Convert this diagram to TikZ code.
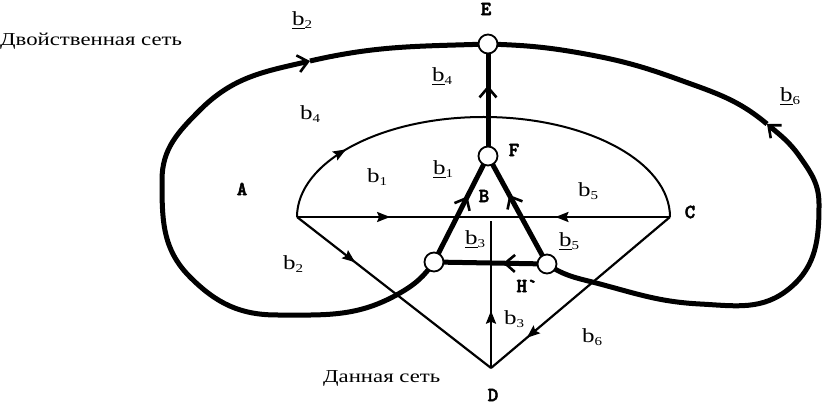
\documentclass[tikz,border=0pt]{standalone}
\usepackage{fontspec}
\usetikzlibrary{arrows.meta,decorations.markings}
\newfontfamily\serw[FakeStretch=1.25]{Liberation Serif}
\newfontfamily\monob[FakeBold=2.5]{lmmonolt10-bold.otf}
\newcommand\bsub[1]{{\fontsize{20}{20}\selectfont b\raisebox{-2.5pt}{\fontsize{12}{12}\selectfont #1}}}
\newcommand\ubsub[1]{{\fontsize{20}{20}\selectfont\setbox0\hbox{b}\rlap{\rule[-3.5pt]{\wd0}{1.3pt}}b\raisebox{-2.5pt}{\fontsize{12}{12}\selectfont #1}}}
\tikzset{
  netline/.style={line width=2.2pt},
  dualline/.style={line width=5pt},
  dualnode/.style={circle, draw, line width=1.8pt, fill=white, minimum size=19pt, inner sep=0pt},
  vlabel/.style={font=\monob\fontsize{20}{20}\selectfont, inner sep=0pt},
  blabel/.style={font=\serw, inner sep=0pt, anchor=base west},
  ttl/.style={font=\serw\fontsize{18.2}{19}\selectfont, inner sep=0pt, anchor=base west},
  tarrow/.style={decoration={markings, mark=at position #1 with {\arrow{Stealth[length=13pt,width=10pt,inset=2pt]}}}, postaction={decorate}},
  barrow/.style={decoration={markings, mark=at position #1 with {\arrow{Straight Barb[length=10pt,width=17pt,line width=2.6pt]}}}, postaction={decorate}},
  barbtip/.style={-{Straight Barb[length=10pt,width=17pt,line width=2.6pt]}},
}
\begin{document}
\begin{tikzpicture}[x=1pt,y=1pt]
\useasboundingbox (0,0) rectangle (824,404);
% given network
\coordinate (A) at (297,187);
\coordinate (C) at (670,187);
\coordinate (M) at (491,187);
\coordinate (Mv) at (491,183);
\coordinate (D) at (491,36);
\draw[netline, tarrow=0.48] (A) -- (M);
\draw[netline, tarrow=0.64] (C) -- (M);
\draw[netline, tarrow=0.39] (D) -- (Mv);
\draw[netline, tarrow=0.30] (A) -- (D);
\draw[netline, tarrow=0.80] (C) -- (D);
\draw[line width=2pt, tarrow=0.19] (A) arc[start angle=180, end angle=0, x radius=186.5, y radius=100];
% dual network
\coordinate (e) at (488,360);
\coordinate (f) at (488,248);
\coordinate (l) at (434,142);
\coordinate (h) at (547,140);
\coordinate (la) at (310,343);
\coordinate (ra) at (767,280);
\draw[dualline, barrow=0.63] (f) -- (e);
\draw[dualline, barrow=0.62] (l) -- (f);
\draw[dualline, barrow=0.64] (h) -- (f);
\draw[dualline, barrow=0.39] (h) -- (l);
\draw[dualline, barbtip] (l) to[out=235,in=30] (400,111) to[out=210,in=0] (277,89)
  to[out=180,in=-45] (190,127) to[out=135,in=270] (162,224) to[out=90,in=225] (200,294)
  to[out=45,in=193] (la);
\draw[dualline] (la) to[out=13,in=182] (e);
\draw[dualline, barbtip] (h) to[out=-35,in=165] (600,120) to[out=-15,in=177] (700,100)
  to[out=-3,in=220] (790,116) to[out=40,in=270] (819,200) to[out=90,in=-55] (800,247)
  to[out=125,in=-40] (ra);
\draw[dualline] (ra) to[out=140,in=-20] (680,324) to[out=160,in=-10] (580,351) to[out=170,in=-2] (e);
\node[dualnode] (E) at (e) {};
\node[dualnode] (F) at (f) {};
\node[dualnode] (L) at (l) {};
\node[dualnode] (H) at (h) {};
% vertex / face labels
\node[vlabel] (tE) at (486,395) {E};
\node[vlabel] (tF) at (514,254) {F};
\node[vlabel] (tA) at (242,215) {A};
\node[vlabel] (tB) at (484,208) {B};
\node[vlabel] (tC) at (690,192) {C};
\node[vlabel] (tD) at (493,9) {D};
\node[vlabel] (tH) at (527,118) {H`};
% branch labels
\node[blabel] (b2u) at (292,378) {\ubsub{2}};
\node[blabel] (b4) at (300,284) {\bsub{4}};
\node[blabel] (b4u) at (432,322) {\ubsub{4}};
\node[blabel] (b6u) at (780,302) {\ubsub{6}};
\node[blabel] (b1) at (367,221) {\bsub{1}};
\node[blabel] (b1u) at (433,229) {\ubsub{1}};
\node[blabel] (b5) at (578,207) {\bsub{5}};
\node[blabel] (b3u) at (465,159) {\ubsub{3}};
\node[blabel] (b5u) at (559,157) {\ubsub{5}};
\node[blabel] (b2) at (283,134) {\bsub{2}};
\node[blabel] (b3) at (504,79) {\bsub{3}};
\node[blabel] (b6) at (582,61) {\bsub{6}};
% titles
\node[ttl] (t1) at (0,358) {Двойственная сеть};
\node[ttl] (t2) at (323,21) {Данная сеть};
\end{tikzpicture}
\end{document}
